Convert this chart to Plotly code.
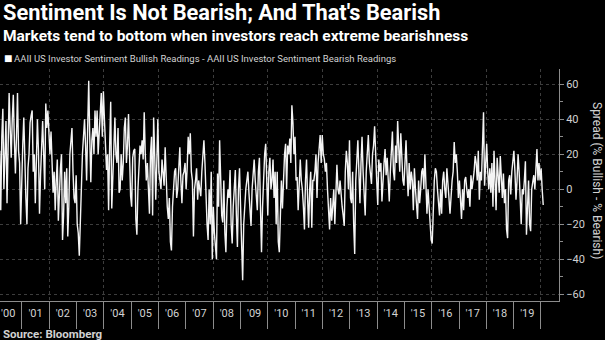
import pandas as pd
import plotly.graph_objects as go

# Weekly AAII survey spread (% bullish minus % bearish), sampled every two weeks
spread_2000_2003 = [
    22, -12, 30, 46, 0, 25, 39, -8, 30, 55, 35, 18, 40, 54, 28, 9, 30, 55, 22, 15,
    -20, 10, 25, 41, 10, -5, -20, 12, 20, 38, 42, 45, 10, 20, -8, 15, 40, 22, -14, 8,
    30, 39, 20, 0, 49, 35, 45, 30, 20, 33, 18, -2, 10, -12, 5, 17, -18, 5, 12, 20,
    -29, -15, 10, -8, 12, -27, -10, 20, 28, 35, 10, -5, -8, 8, -20, -25, -38, -15, 5, 20,
    30, 40, 25, 5, 35, 62, 30, 4, 28, 35, 20, 45, 30, 45, 20,
]
spread_2003_2007 = [
    34, 50, 55, 30, 56, 40, 28, 11, 20, -12, 25, 50, -11, 10, 30, 41, 20, 15, 35, -2,
    0, 20, 5, 15, 35, 41, 15, 25, 43, 20, -4, -10, 18, 22, 23, -17, -26, 0, 10, 25,
    20, 28, 17, 44, 20, 5, 15, 0, -14, 20, 30, -15, 41, 20, -6, 15, 40, 10, 5, 0,
    17, 8, 2, 24, 5, -10, -17, -5, -30, -35, -10, 5, 10, 12, -5, 0, 15, 24, 5, -8,
    8, 10, 15, 0, 12, 30, 20, 32, 10, 5,
]
spread_2007_2010 = [
    -27, 0, 5, 12, -6, 5, 0, -4, 10, 20, 28, 15, -10, -20, -29, 0, -20, 10, -40, -10,
    -25, -35, -40, 9, -10, 28, 0, -15, -19, 5, -25, -36, -10, 0, -5, 11, -20, -31, -10, 5,
    11, -15, -33, 0, 12, -10, -30, -52, -20, -5, 0, 5, 10, -2, -10, -21, 0, 8, 17, 5,
    -5, -12, 10, 18, -10, -36, -10, 10, 20, 26, 5, -15, 10, 18, 0, 5, 17, -5, 10, -20,
    10, -30, -36, -5, 5, -11, 10, 20, 26, 0,
]
spread_2010_2014 = [
    25, 20, 29, 15, 48, 38, 20, 30, 5, 7, -12, 10, 17, 5, 0, -10, -23, 5, 17, -5,
    -22, 0, 10, -22, 5, 5, 10, 20, -5, 15, 25, 31, 15, 31, 20, 17, 10, 15, 0, -15,
    -23, -5, -18, -10, 0, -20, 5, 14, 0, -3, 5, -5, -10, -15, -21, 10, 22, 15, 0, 28,
    -5, -8, 10, -20, -37, 5, 15, 28, 10, -8, 15, 30, 10, 0, -15, 10, 20, 31, 15, 10,
    3, 20, 25, 36, 15, 5, -9, 17, 10, 15,
]
spread_2014_2017 = [
    -7, 10, 15, 23, 8, 18, 0, -7, 10, 20, 33, 10, 5, 25, 15, 39, 20, 10, 32, 15,
    5, 2, 20, 28, 10, -4, 15, 0, 10, 5, -12, 12, 0, -10, -17, 5, -8, 0, 10, 12,
    0, 20, 5, -14, 0, -10, -20, -29, -31, -5, 5, 12, 10, 0, -8, -15, 0, -14, 5, 10,
    0, -5, 12, 5, -5, -14, 0, 5, 10, 27, 15, 20, 10, -5, 5, -10, -17, 0, -12, 5,
    7, 0, -5, 0, -10, 8, 0, 5, 10, 19,
]
spread_2017_2020 = [
    15, 5, 22, -6, 10, 5, 30, 44, 2, 20, 26, 10, 0, 12, -2, 15, -10, 22, 5, -12,
    18, 10, -2, 19, 10, -5, 9, -8, 0, -23, -28, 5, 8, -3, 10, 15, 22, 10, -6, 5,
    20, 10, -5, -20, 0, -3, 5, 16, -26, -10, 5, -20, -24, 0, 5, 8, 0, 10, 23, 5,
    15, 5, 12, 0, -9,
]

spread = (spread_2000_2003 + spread_2003_2007 + spread_2007_2010
          + spread_2010_2014 + spread_2014_2017 + spread_2017_2020)
dates = pd.date_range("2000-03-10", periods=len(spread), freq="14D")

years = list(range(2000, 2020))
year_labels = ["'%02d" % (y % 100) for y in years]
label_dates = ["%d-07-02" % y for y in years]
year_starts = ["%d-01-01" % (y + 1) for y in years]

x_range = ["2000-03-14", "2020-08-29"]
y_range = [-63.9, 68.7]

TITLE = "Sentiment Is Not Bearish; And That's Bearish"
SUBTITLE = "Markets tend to bottom when investors reach extreme bearishness"
LEGEND = "AAII US Investor Sentiment Bullish Readings - AAII US Investor Sentiment Bearish Readings"
Y_TITLE = "Spread (% Bullish - % Bearish)"
SOURCE = "Source: Bloomberg"

AXIS = "#8c8c8c"
GRID = "#3d3d3d"
TEXT = "#d2d2d2"
FONT = "Roboto"

fig = go.Figure()
fig.add_trace(go.Scatter(
    x=dates, y=spread, mode="lines",
    line=dict(color="#f4f4f4", width=1.4),
    showlegend=False, hoverinfo="skip",
))

# plot area: x 0..559 px, y 69..301 px
W, TOP, BOT = 559, 69, 301


def py(v):
    return (BOT - v) / (BOT - TOP)


def note(text, x, y, size, color=TEXT, anchor="left", angle=0):
    return dict(text=text, x=x / W, y=py(y), xref="paper", yref="paper",
                xanchor=anchor, yanchor="middle", showarrow=False, textangle=angle,
                font=dict(size=size, color=color, family=FONT))


fig.update_layout(
    width=605, height=340,
    margin=dict(l=0, r=605 - W, t=TOP, b=340 - BOT, pad=0),
    paper_bgcolor="black", plot_bgcolor="black",
    font=dict(family=FONT, color=TEXT),
    xaxis=dict(
        type="date", range=x_range, showgrid=True, gridcolor=GRID, griddash="dot",
        gridwidth=1, tick0="2000-01-01", dtick="M24", ticks="", showticklabels=False,
        showline=True, linecolor=AXIS, linewidth=1, zeroline=False,
    ),
    xaxis2=dict(
        type="date", range=x_range, overlaying="x", anchor="y", side="bottom",
        showgrid=False, showline=False, zeroline=False,
        tickmode="array", tickvals=label_dates, ticktext=year_labels, ticks="",
        tickfont=dict(size=11, color=TEXT, family=FONT),
        ticklabelstandoff=4,
        minor=dict(tickmode="array", tickvals=year_starts, ticks="outside",
                   ticklen=27, tickcolor=AXIS, tickwidth=1, showgrid=False),
    ),
    yaxis=dict(
        side="right", range=y_range, tickmode="linear", tick0=0, dtick=20,
        showgrid=True, gridcolor=GRID, griddash="dot", gridwidth=1,
        ticks="outside", ticklen=4, tickcolor=AXIS, showline=True, linecolor=AXIS,
        tickfont=dict(size=11, color=TEXT, family=FONT), zeroline=False,
        minor=dict(dtick=10, ticks="outside", ticklen=3, tickcolor=AXIS, showgrid=False),
    ),
    annotations=[
        note("<b>%s</b>" % TITLE, 1, 13, 21.8, color="white"),
        note("<b>%s</b>" % SUBTITLE, 1, 35.5, 15.5, color="white"),
        note("\u25a0", 2, 58.5, 14, color="white"),
        note(LEGEND, 11.5, 59, 9.5),
        note(Y_TITLE, 597, 180, 12, anchor="center", angle=90),
        note("<b>%s</b>" % SOURCE, 1, 334, 11.5),
    ],
)

fig.add_trace(go.Scatter(x=[dates[0]], y=[None], xaxis="x2", showlegend=False,
                         hoverinfo="skip"))

fig.write_html("out.html", config={"displayModeBar": False})
